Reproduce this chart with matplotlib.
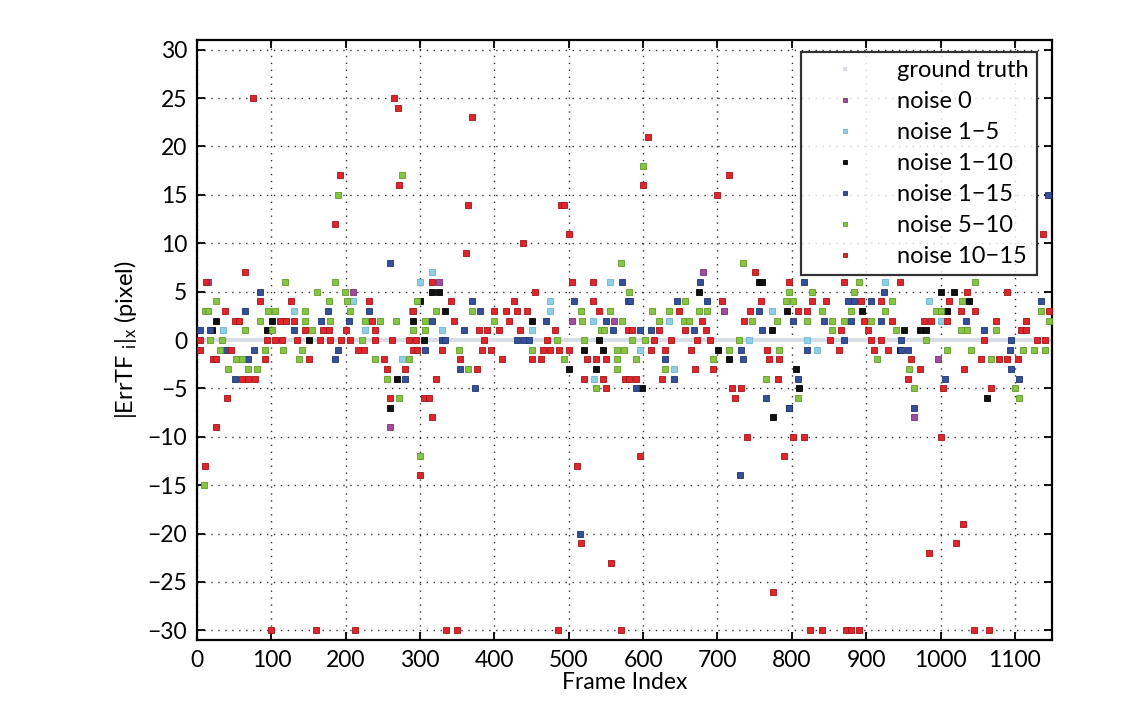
import numpy as np
import matplotlib
matplotlib.use("Agg")
import matplotlib.pyplot as plt

plt.rcParams['font.family'] = ['Lato', 'DejaVu Sans']
plt.rcParams['mathtext.fontset'] = 'custom'
plt.rcParams['mathtext.rm'] = 'Lato'
plt.rcParams['mathtext.it'] = 'Lato:italic'

# ---------------- data (frame, value) ----------------
gt_frames = np.arange(0, 1151, 2)
gt_values = np.zeros(len(gt_frames))

noise_0 = [(15, 6), (325, 6), (680, 7), (210, 5), (709, 3), (505, 2), (561, 2),
           (996, -2), (260, -9), (965, -8)]

noise_1_5 = [(316, 7), (300, 6), (556, 6), (926, 6), (210, 4), (475, 4), (985, 4),
             (130, 3), (475, 3), (774, 3), (532, 2), (635, 2), (1000, 2), (35, 1),
             (226, 1), (330, 1), (451, 1), (742, 0), (821, 0), (596, -1), (834, -1),
             (276, -2), (534, -4), (641, -3)]

noise_1_10 = [(756, 6), (760, 6), (316, 5), (325, 5), (675, 5), (1000, 5), (1018, 5),
              (300, 4), (1038, 4), (334, 3), (794, 3), (895, 3), (1009, 3),
              (26, 2), (101, 2), (291, 2), (451, 2), (20, 1), (94, 1), (774, 1),
              (951, 1), (972, 1), (981, 1), (150, 0), (305, 0), (541, 0),
              (520, -1), (546, -1), (701, -1), (945, -1), (715, -2), (500, -3),
              (536, -3), (805, -3), (269, -4), (599, -5), (810, -5), (1063, -6),
              (260, -7), (796, -7), (775, -8)]

noise_1_15 = [(260, 8), (515, -20), (730, -14), (1145, 15), (965, -7), (796, -7),
              (765, -6), (1006, -4), (1105, -4), (374, -5), (590, -5),
              (571, 6), (676, 6), (816, 6), (85, 5), (924, 5),
              (370, 4), (507, 4), (579, 4), (583, 4), (646, 4), (686, 4), (875, 4),
              (884, 4), (906, 4), (1135, 4),
              (65, 3), (176, 3), (231, 3), (381, 3), (756, 3),
              (167, 2), (205, 2), (316, 2), (470, 2), (550, 2), (801, 2), (843, 2),
              (879, 2), (920, 2), (1034, 2),
              (4, 1), (17, 1), (131, 1), (359, 1), (559, 1), (596, 1), (610, 1),
              (669, 1), (760, 1), (1059, 1),
              (330, 0), (334, 0), (431, 0), (440, 0), (446, 0), (870, 0), (947, 0),
              (1095, 0),
              (38, -1), (76, -1), (190, -1), (307, -1), (731, -1), (821, -1),
              (947, -1), (956, -1), (1093, -1),
              (69, -2), (186, -2), (630, -2), (735, -2), (354, -3), (1095, -3),
              (51, -4), (280, -4), (641, -4), (808, -4)]

noise_5_10 = [(189, 15), (276, 17), (300, -12), (10, -15), (600, 18), (570, 8),
              (735, 8), (271, -6), (808, -6), (1106, -6), (965, -5), (1100, -5),
              (536, -5),
              (118, 6), (186, 6), (890, 6), (1047, 6),
              (161, 5), (199, 5), (581, 5), (796, 5), (827, 5), (884, 5),
              (25, 4), (177, 4), (202, 4), (296, 4), (657, 4), (792, 4), (801, 4),
              (935, 4), (1029, 4),
              (11, 3), (15, 3), (96, 3), (105, 3), (145, 3), (206, 3), (289, 3),
              (321, 3), (370, 3), (516, 3), (555, 3), (612, 3), (635, 3), (675, 3),
              (686, 3), (841, 3), (879, 3), (926, 3), (994, 3), (1000, 3), (1135, 3),
              (85, 2), (145, 2), (179, 2), (226, 2), (246, 2), (267, 2), (307, 2),
              (399, 2), (518, 2), (572, 2), (621, 2), (655, 2), (662, 2), (746, 2),
              (780, 2), (821, 2), (854, 2), (870, 2), (906, 2), (1146, 2),
              (65, 1), (101, 1), (154, 1), (291, 1), (307, 1), (543, 1), (547, 1),
              (854, 1), (940, 1), (1027, 1), (1036, 1), (1075, 1),
              (17, 0), (33, 0), (222, 0), (484, 0), (520, 0), (585, 0), (603, 0),
              (729, 0), (981, 0),
              (31, -1), (92, -1), (116, -1), (141, -1), (352, -1), (451, -1),
              (565, -1), (574, -1), (715, -1), (783, -1), (1009, -1), (1041, -1),
              (1111, -1), (1126, -1), (1140, -1),
              (53, -2), (60, -2), (137, -2), (240, -2), (285, -2), (493, -2),
              (565, -2), (590, -2), (694, -2), (915, -2), (1068, -2),
              (42, -3), (69, -3), (80, -3), (365, -3), (565, -3), (630, -3), (958, -3),
              (255, -4), (765, -4)]

noise_10_15 = [(75, 25), (265, 25), (270, 24), (370, 23), (192, 17), (272, 16),
               (185, 12), (365, 14), (362, 9), (606, 21), (600, 16), (715, 17),
               (700, 15), (490, 14), (494, 14), (500, 11), (439, 10), (1138, 11),
               (11, -13), (25, -9), (300, -14), (316, -8), (100, -30), (160, -30),
               (212, -30), (335, -30), (350, -30), (485, -30), (570, -30), (511, -13),
               (517, -21), (557, -23), (596, -12), (790, -12), (1030, -19),
               (1021, -21), (984, -22), (775, -26), (825, -30), (840, -30),
               (873, -30), (880, -30), (890, -30), (1045, -30), (1065, -30),
               (740, -10), (801, -10), (816, -10), (1000, -10),
               (64, 7), (750, 7),
               (12, 6), (316, 6), (505, 6), (532, 6), (796, 6), (870, 6), (945, 6),
               (455, 5), (1035, 5), (1090, 5),
               (85, 4), (127, 4), (231, 4), (341, 4), (426, 4), (532, 4), (706, 4),
               (758, 4), (827, 4), (846, 4), (893, 4), (920, 4), (1011, 4),
               (37, 3), (291, 3), (399, 3), (415, 3), (431, 3), (444, 3), (541, 3),
               (648, 3), (744, 3), (808, 3), (821, 3), (1027, 3), (1047, 3), (1146, 3),
               (51, 2), (56, 2), (112, 2), (119, 2), (130, 2), (235, 2), (345, 2),
               (420, 2), (679, 2), (736, 2), (897, 2), (935, 2), (978, 2), (987, 2),
               (1009, 2), (1075, 2), (1115, 2),
               (145, 1), (170, 1), (177, 1), (201, 1), (240, 1), (379, 1), (390, 1),
               (406, 1), (435, 1), (482, 1), (579, 1), (585, 1), (621, 1), (656, 1),
               (684, 1), (866, 1), (902, 1), (1108, 1), (1115, 1),
               (4, 0), (94, 0), (105, 0), (114, 0), (134, 0), (166, 0), (179, 0),
               (193, 0), (206, 0), (240, 0), (262, 0), (285, 0), (294, 0), (386, 0),
               (471, 0), (614, 0), (637, 0), (672, 0), (690, 0), (852, 0), (906, 0),
               (920, 0), (1059, 0), (1130, 0), (1140, 0),
               (4, -1), (45, -1), (217, -1), (224, -1), (291, -1), (296, -1),
               (330, -1), (383, -1), (395, -1), (466, -1), (475, -1), (487, -1),
               (500, -1), (610, -1), (630, -1), (664, -1), (767, -1), (863, -1),
               (911, -1), (929, -1),
               (22, -2), (26, -2), (91, -2), (150, -2), (251, -2), (354, -2),
               (410, -2), (451, -2), (462, -2), (525, -2), (536, -2), (550, -2),
               (769, -2), (783, -2), (960, -2), (1054, -2), (1079, -2), (1090, -2),
               (1104, -2),
               (255, -3), (280, -3), (376, -3), (670, -3), (694, -3), (973, -3),
               (1032, -3),
               (60, -4), (69, -4), (78, -4), (321, -4), (520, -4), (546, -4),
               (576, -4), (581, -4), (590, -4), (625, -4), (781, -4), (956, -4),
               (550, -5), (720, -5), (731, -5), (1003, -5), (1068, -5),
               (40, -6), (260, -6), (305, -6), (312, -6), (724, -6)]

series_labels = ['noise 0', 'noise 1\u22125', 'noise 1\u221210', 'noise 1\u221215',
                 'noise 5\u221210', 'noise 10\u221215']
series_data = [noise_0, noise_1_5, noise_1_10, noise_1_15, noise_5_10, noise_10_15]
series_colors = ['#a24a9e', '#8ecfe6', '#111111', '#34509a', '#86c441', '#e0262b']
series_edges = ['#7a2f78', '#6fb5cf', '#000000', '#1f356f', '#5f9a28', '#a01418']

x_ticks = list(range(0, 1101, 100))
y_ticks = list(range(-30, 31, 5))

# ---------------- figure ----------------
fig = plt.figure(figsize=(11.43, 7.02), dpi=100)
ax = fig.add_axes([0.1724, 0.0883, 0.748, 0.8547])

ax.plot(gt_frames, gt_values, linestyle='none', marker='s', markersize=3.2,
        color='#d6dde4', markeredgewidth=0, label='ground truth', zorder=2)

for lab, data, fc, ec in zip(series_labels, series_data, series_colors, series_edges):
    arr = np.array(data, dtype=float)
    ax.plot(arr[:, 0], arr[:, 1], linestyle='none', marker='s', markersize=4.0,
            markerfacecolor=fc, markeredgecolor=ec, markeredgewidth=0.6,
            label=lab, zorder=3)

ax.set_xlim(0, 1150)
ax.set_ylim(-31, 31)
ax.set_xticks(x_ticks)
ax.set_yticks(y_ticks)
ax.grid(True, linestyle=(0, (1, 4)), color='#333333', linewidth=1.0)
ax.set_axisbelow(True)
ax.tick_params(direction='in', length=6, width=1.3, top=True, right=True,
               labelsize=16.5, pad=7, colors='black')
for sp in ax.spines.values():
    sp.set_linewidth(1.6)

ax.set_xlabel('Frame Index', fontsize=16.5, labelpad=1)
ax.set_ylabel(r'$|\mathrm{ErrTF}\ {}_{\mathrm{i}}|_{\mathrm{x}}$ (pixel)', fontsize=17,
              labelpad=6)

leg = ax.legend(loc='upper right', bbox_to_anchor=(0.982, 0.98), fontsize=17,
                frameon=True, fancybox=False, edgecolor='black', borderpad=0.35,
                labelspacing=0.42, handlelength=3.0, handletextpad=0.7,
                markerscale=0.8, borderaxespad=0)
leg.get_frame().set_linewidth(1.6)

fig.savefig('out.png', dpi=100, facecolor='white')
